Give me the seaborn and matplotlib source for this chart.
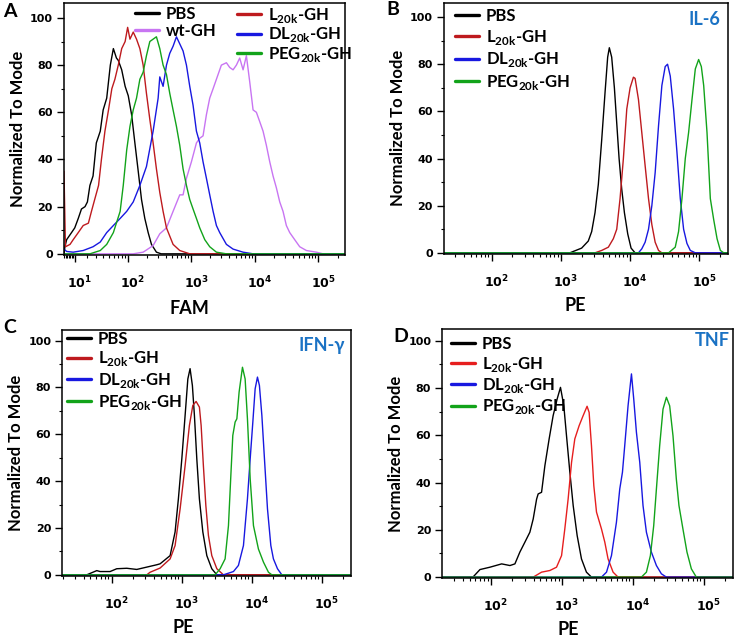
import numpy as np
import pandas as pd
import seaborn as sns
import matplotlib
matplotlib.use('Agg')
import matplotlib.pyplot as plt
from matplotlib.lines import Line2D
from matplotlib.ticker import FixedLocator, NullFormatter
from matplotlib.transforms import ScaledTranslation

# values: log10(fluorescence), % of mode
# panel A - FAM
A_PBS_LOG = [0.54, 0.66, 0.89, 1.00, 1.10, 1.18, 1.26, 1.31, 1.36, 1.42, 1.48, 1.55, 1.60, 1.66, 1.72,
             1.77, 1.82, 1.85, 1.905, 1.96, 2.01, 2.063, 2.115, 2.168, 2.22, 2.272, 2.325, 2.377, 2.455, 2.53]
A_PBS_Y = [3, 6, 9, 11, 15, 19, 20, 22, 29, 33, 47, 52, 61, 66, 80,
           87, 83, 82, 78, 71, 67, 59, 47, 35, 23, 15, 9, 4, 0.7, 0]
A_WT_LOG = [2.089, 2.246, 2.403, 2.508, 2.613, 2.717, 2.822, 2.874, 2.927, 3.005, 3.084, 3.136, 3.188, 3.241,
            3.293, 3.346, 3.398, 3.476, 3.555, 3.607, 3.66, 3.712, 3.764, 3.817, 3.869, 3.921, 3.974, 4.026,
            4.079, 4.131, 4.183, 4.236, 4.288, 4.34, 4.393, 4.445, 4.497, 4.55, 4.628, 4.707, 4.812, 4.969, 5.073]
A_WT_Y = [0, 0.7, 3.5, 8.5, 11, 18, 25, 25, 32, 39, 47, 49, 50, 59,
          66, 70, 74, 80, 81, 79, 78, 80, 83, 78, 84, 73, 61, 60,
          56, 52, 46, 39, 33, 28, 22, 18, 12, 9, 6, 3, 1.4, 0.7, 0]
A_L20_LOG = [0.46, 0.58, 0.83, 0.95, 1.10, 1.22, 1.33, 1.39, 1.45, 1.52, 1.57, 1.63, 1.69, 1.745, 1.795, 1.85,
             1.905, 1.96, 2.0, 2.037, 2.089, 2.141, 2.194, 2.246, 2.298, 2.351, 2.403, 2.455, 2.508, 2.56,
             2.613, 2.717, 2.822, 2.979]
A_L20_Y = [35, 3, 4, 6, 9, 12, 13, 18, 23, 29, 40, 52, 61, 70, 74, 80,
           87, 90, 96, 91, 94, 91, 87, 80, 68, 57, 47, 36, 26, 18,
           11, 4, 1.4, 0]
A_DL_LOG = [0.46, 0.66, 0.95, 1.22, 1.42, 1.55, 1.66, 1.77, 1.88, 1.985, 2.089, 2.194, 2.298, 2.403, 2.482,
            2.508, 2.56, 2.613, 2.665, 2.717, 2.77, 2.822, 2.874, 2.927, 2.979, 3.031, 3.084, 3.136, 3.188,
            3.241, 3.293, 3.346, 3.398, 3.45, 3.555, 3.66, 3.817, 3.974]
A_DL_Y = [2, 1, 0.7, 1.4, 3, 5, 9, 12, 15, 18, 22, 29, 37, 52, 66,
          75, 71, 80, 85, 88, 92, 89, 86, 80, 71, 63, 52, 47, 39,
          32, 25, 18, 12, 9, 4, 2, 0.7, 0]
A_PEG_LOG = [1.36, 1.55, 1.66, 1.77, 1.88, 1.93, 1.985, 2.037, 2.089, 2.141, 2.194, 2.246, 2.298, 2.351,
             2.403, 2.455, 2.508, 2.56, 2.613, 2.665, 2.717, 2.77, 2.822, 2.874, 2.927, 2.979, 3.031,
             3.084, 3.136, 3.215, 3.293, 3.398, 3.555]
A_PEG_Y = [0, 1.4, 4, 9, 18, 29, 44, 54, 61, 66, 74, 77, 84, 90,
           91, 92, 87, 80, 76, 68, 61, 54, 46, 36, 29, 23, 19,
           15, 11, 6, 3, 0.7, 0]

# panel B - IL-6
B_PBS_LOG = [3.13, 3.30, 3.396, 3.445, 3.493, 3.541, 3.59, 3.638, 3.676, 3.70,
             3.734, 3.773, 3.807, 3.841, 3.879, 3.918, 3.966, 4.014, 4.072]
B_PBS_Y = [0, 2, 5, 9, 17, 29, 48, 68, 83, 87, 83, 70, 55, 40, 27, 17, 8, 2, 0]
B_L20_LOG = [3.493, 3.589, 3.686, 3.758, 3.807, 3.855, 3.903, 3.952, 4.0, 4.048,
             4.072, 4.121, 4.169, 4.217, 4.266, 4.314, 4.362, 4.411, 4.459]
B_L20_Y = [0, 1, 2.4, 6, 10, 23, 40, 61, 70, 74.5, 74, 65, 51, 37, 23, 12, 4.5, 1, 0]
B_DL_LOG = [4.121, 4.169, 4.217, 4.266, 4.314, 4.362, 4.411, 4.459, 4.507,
            4.541, 4.58, 4.628, 4.676, 4.725, 4.773, 4.821, 4.87, 4.942]
B_DL_Y = [0, 1.7, 4.5, 10, 20, 34, 54, 71, 79, 80, 75, 61, 43, 23, 10, 4, 1, 0]
B_PEG_LOG = [4.556, 4.652, 4.70, 4.749, 4.797, 4.845, 4.894, 4.942, 4.99,
             5.029, 5.063, 5.111, 5.159, 5.208, 5.256, 5.304, 5.353]
B_PEG_Y = [0, 2.4, 9, 23, 40, 51, 65, 78, 82, 79, 71, 51, 23, 14, 6, 1, 0]

# panel C - IFN-gamma
C_PBS_LOG = [1.646, 1.789, 1.836, 1.979, 2.074, 2.217, 2.36, 2.503, 2.646, 2.693, 2.836, 2.907, 2.954,
             3.003, 3.05, 3.089, 3.121, 3.154, 3.183, 3.217, 3.254, 3.303, 3.36, 3.431, 3.503]
C_PBS_Y = [0, 1.8, 1.4, 1.4, 2.6, 2.8, 2.3, 3.3, 4.3, 4.7, 8.2, 18.3, 32.4,
           49.5, 68, 83.6, 88, 80.8, 68, 49.5, 32.4, 18.3, 8.2, 2.6, 0]
C_L20_LOG = [2.503, 2.55, 2.693, 2.836, 2.907, 2.979, 3.05, 3.111, 3.16,
             3.207, 3.254, 3.279, 3.311, 3.346, 3.383, 3.431, 3.503, 3.597]
C_L20_Y = [0, 1.1, 2.9, 6.8, 12.5, 28.2, 46.6, 63.7, 72.3, 74, 71.6, 63.7, 46.6, 29.6, 16.8, 8.2, 2.6, 0]
C_DL_LOG = [3.597, 3.74, 3.811, 3.883, 3.94, 3.979, 4.017, 4.05, 4.083,
            4.111, 4.146, 4.183, 4.226, 4.274, 4.311, 4.369, 4.431]
C_DL_Y = [0, 1.4, 4, 12.5, 32.4, 49.5, 65.2, 79.4, 84.4, 80.8, 68, 49.5, 28.2, 12.5, 6.8, 2.6, 0]
C_PEG_LOG = [3.479, 3.55, 3.621, 3.669, 3.703, 3.731, 3.764, 3.789, 3.821,
             3.869, 3.907, 3.94, 3.979, 4.026, 4.097, 4.169, 4.24, 4.289]
C_PEG_Y = [0, 2.6, 6.8, 21, 42.4, 59.5, 65.2, 66.6, 78, 88.6, 83.6, 66.6, 41, 21, 11, 5.4, 1.1, 0]

# panel D - TNF
D_PBS_LOG = [1.746, 1.845, 1.986, 2.151, 2.268, 2.338, 2.408, 2.479, 2.549, 2.596, 2.644, 2.666, 2.714,
             2.761, 2.821, 2.877, 2.934, 2.981, 3.028, 3.066, 3.113, 3.16, 3.216, 3.277, 3.347, 3.418]
D_PBS_Y = [0, 3.2, 4.2, 5.6, 4.9, 5.6, 10.6, 14.8, 19, 24.6, 33, 35.2, 35.9,
           47.2, 58.5, 68.3, 75.4, 80.3, 72.5, 59.8, 44.4, 30.3, 17.6, 7.7, 2.1, 0]
D_L20_LOG = [2.596, 2.714, 2.831, 2.925, 2.996, 3.042, 3.089, 3.137, 3.183, 3.244, 3.3,
             3.356, 3.385, 3.418, 3.451, 3.489, 3.559, 3.606, 3.652, 3.723, 3.793]
D_L20_Y = [0, 2.1, 2.8, 4.2, 9.1, 20.4, 33.1, 48.6, 58.5, 64.1, 68.3,
           72.3, 69.7, 55.6, 38.7, 27.5, 20.4, 14.8, 7.7, 2.1, 0]
D_DL_LOG = [3.559, 3.63, 3.70, 3.77, 3.817, 3.855, 3.887, 3.934, 3.982,
            4.014, 4.052, 4.099, 4.145, 4.193, 4.263, 4.334, 4.404, 4.475]
D_DL_Y = [0, 2.1, 9.1, 23.2, 37.3, 44.4, 55.6, 72.5, 86, 75.4, 61.3, 48.6, 30.3, 19, 10.6, 4.9, 1.4, 0]
D_PEG_LOG = [4.122, 4.193, 4.249, 4.296, 4.334, 4.38, 4.427, 4.475,
             4.521, 4.568, 4.615, 4.652, 4.708, 4.765, 4.827, 4.897]
D_PEG_Y = [0, 2.1, 9.1, 21.8, 37.3, 55.6, 71.1, 76.1, 72.5, 59.8, 41.5, 30.3, 20.4, 10.6, 3.5, 0]

LABELS = {'PBS': 'PBS', 'wt-GH': 'wt-GH',
          'L20k-GH': r'L$_{\mathregular{20k}}$-GH',
          'DL20k-GH': r'DL$_{\mathregular{20k}}$-GH',
          'PEG20k-GH': r'PEG$_{\mathregular{20k}}$-GH'}
PALETTE = {'PBS': '#000000', 'wt-GH': '#c875f2', 'L20k-GH': '#be1a1e',
           'DL20k-GH': '#1818e0', 'PEG20k-GH': '#12a31a'}
ANNOT_BLUE = '#1a72c4'

sns.set_style('ticks')
plt.rcParams['font.family'] = ['Lato', 'DejaVu Sans']
for k in ['text.color', 'axes.labelcolor', 'xtick.color', 'ytick.color', 'axes.edgecolor']:
    plt.rcParams[k] = 'black'

W, H = 736, 639
fig = plt.figure(figsize=(W / 100, H / 100), dpi=100)

# FlowJo-like biexponential display for the FAM axis
C_BIEX = 17.0
def fwd(x):
    return np.arcsinh(np.asarray(x, float) / C_BIEX)
def inv(u):
    return C_BIEX * np.sinh(np.asarray(u, float))

LEG_FONT = {'family': ['Lato', 'DejaVu Sans'], 'weight': 'bold', 'size': 12}


def px_rect(l, t, r, b):
    return [l / W, 1 - b / H, (r - l) / W, (b - t) / H]


def draw_panel(box, curves, pal, lo, hi, ytop, biex, xlabel, xlab_pos):
    ax = fig.add_axes(px_rect(*box))
    frames = []
    for name, (lx, ly) in curves.items():
        x = 10 ** np.asarray(lx, float)
        y = np.asarray(ly, float)
        if lx[0] > np.log10(lo) + 0.01:
            x = np.r_[lo, x]
            y = np.r_[0, y]
        x = np.r_[x, hi]
        y = np.r_[y, 0]
        frames.append(pd.DataFrame({'x': x, 'y': y, 'sample': name}))
    df = pd.concat(frames, ignore_index=True)
    sns.lineplot(data=df, x='x', y='y', hue='sample', hue_order=list(curves), palette=pal,
                 estimator=None, sort=False, legend=False, linewidth=1.0, ax=ax)
    if biex:
        ax.set_xscale('function', functions=(fwd, inv))
        decades = [1, 2, 3, 4, 5]
    else:
        ax.set_xscale('log')
        decades = [2, 3, 4, 5]
    ax.set_xlim(lo, hi)
    ax.set_ylim(-0.5, ytop)
    ax.set_xticks([10.0 ** d for d in decades],
                  [r'$\mathregular{10^{%d}}$' % d for d in decades],
                  fontsize=9, fontweight='bold', family='DejaVu Sans')
    minor = [k * 10.0 ** d for d in range(0, 6) for k in range(2, 10) if lo < k * 10.0 ** d < hi]
    ax.xaxis.set_minor_locator(FixedLocator(minor))
    ax.xaxis.set_minor_formatter(NullFormatter())
    ax.set_yticks([0, 20, 40, 60, 80, 100], ['0', '20', '40', '60', '80', '100'],
                  fontsize=8, fontweight='bold', family='DejaVu Sans')
    ax.set_yticks([10, 30, 50, 70, 90], minor=True)
    ax.tick_params(which='major', length=5, width=1.0, direction='out')
    ax.tick_params(which='minor', length=2.5, width=0.8, direction='out')
    ax.tick_params(axis='x', which='major', pad=9)
    ax.tick_params(axis='y', which='major', pad=3)
    for s in ax.spines.values():
        s.set_visible(True)
        s.set_linewidth(1.1)
        s.set_color('black')
    for lab in ax.get_xticklabels():
        lab.set_transform(lab.get_transform() + ScaledTranslation(0.05, 0, fig.dpi_scale_trans))
    ax.set_xlabel(xlabel, fontsize=13, fontweight='bold')
    ax.xaxis.set_label_coords(*xlab_pos)
    ax.xaxis.label.set_va('center')
    ax.set_ylabel('Normalized To Mode', fontsize=12, fontweight='bold', labelpad=3)
    return ax


def put_legend(ax, keys, pal, x_px, y_px, spacing):
    handles = [Line2D([], [], color=pal[k], lw=2.4) for k in keys]
    leg = ax.legend(handles, [LABELS[k] for k in keys], loc='upper left',
                    bbox_to_anchor=(x_px / W, 1 - y_px / H), bbox_transform=fig.transFigure,
                    frameon=False, borderpad=0, borderaxespad=0, handlelength=1.45,
                    handletextpad=0.4, labelspacing=spacing, prop=LEG_FONT)
    return leg


HI = 262144.0
pal_d = dict(PALETTE, **{'L20k-GH': '#e61e1e'})

axA = draw_panel((64, 3.3, 345, 255),
                 {'PBS': (A_PBS_LOG, A_PBS_Y), 'wt-GH': (A_WT_LOG, A_WT_Y),
                  'L20k-GH': (A_L20_LOG, A_L20_Y), 'DL20k-GH': (A_DL_LOG, A_DL_Y),
                  'PEG20k-GH': (A_PEG_LOG, A_PEG_Y)},
                 PALETTE, 2.9, HI, 106.2, True, 'FAM', (0.448, -0.213))
axB = draw_panel((444, 2.7, 728.3, 254),
                 {'PBS': (B_PBS_LOG, B_PBS_Y), 'L20k-GH': (B_L20_LOG, B_L20_Y),
                  'DL20k-GH': (B_DL_LOG, B_DL_Y), 'PEG20k-GH': (B_PEG_LOG, B_PEG_Y)},
                 PALETTE, 20.5, HI, 106.1, False, 'PE', (0.461, -0.205))
axC = draw_panel((62.3, 330, 351, 576),
                 {'PBS': (C_PBS_LOG, C_PBS_Y), 'L20k-GH': (C_L20_LOG, C_L20_Y),
                  'DL20k-GH': (C_DL_LOG, C_DL_Y), 'PEG20k-GH': (C_PEG_LOG, C_PEG_Y)},
                 PALETTE, 19.8, HI, 104.5, False, 'PE', (0.418, -0.209))
axD = draw_panel((442.3, 329, 733.3, 578.3),
                 {'PBS': (D_PBS_LOG, D_PBS_Y), 'L20k-GH': (D_L20_LOG, D_L20_Y),
                  'DL20k-GH': (D_DL_LOG, D_DL_Y), 'PEG20k-GH': (D_PEG_LOG, D_PEG_Y)},
                 pal_d, 20.6, HI, 105.0, False, 'PE', (0.432, -0.205))

legA1 = put_legend(axA, ['PBS', 'wt-GH'], PALETTE, 135, 6, 0.05)
axA.add_artist(legA1)
put_legend(axA, ['L20k-GH', 'DL20k-GH', 'PEG20k-GH'], PALETTE, 237, 6, 0.02)
put_legend(axB, ['PBS', 'L20k-GH', 'DL20k-GH', 'PEG20k-GH'], PALETTE, 455, 8, 0.22)
put_legend(axC, ['PBS', 'L20k-GH', 'DL20k-GH', 'PEG20k-GH'], PALETTE, 67, 331, 0.15)
put_legend(axD, ['PBS', 'L20k-GH', 'DL20k-GH', 'PEG20k-GH'], pal_d, 451, 336, 0.15)

for letter, x, y in [('A', 3, 3), ('B', 386, 1), ('C', 3, 319), ('D', 393, 328)]:
    fig.text(x / W, 1 - y / H, letter, ha='left', va='top', fontsize=14, fontweight='bold')

for txt, x, y in [('IL-6', 720, 11), ('IFN-γ', 345, 337), ('TNF', 730, 332)]:
    fig.text(x / W, 1 - y / H, txt, ha='right', va='top', fontsize=13, fontweight='bold',
             color=ANNOT_BLUE)

fig.savefig('out.png', dpi=100)
